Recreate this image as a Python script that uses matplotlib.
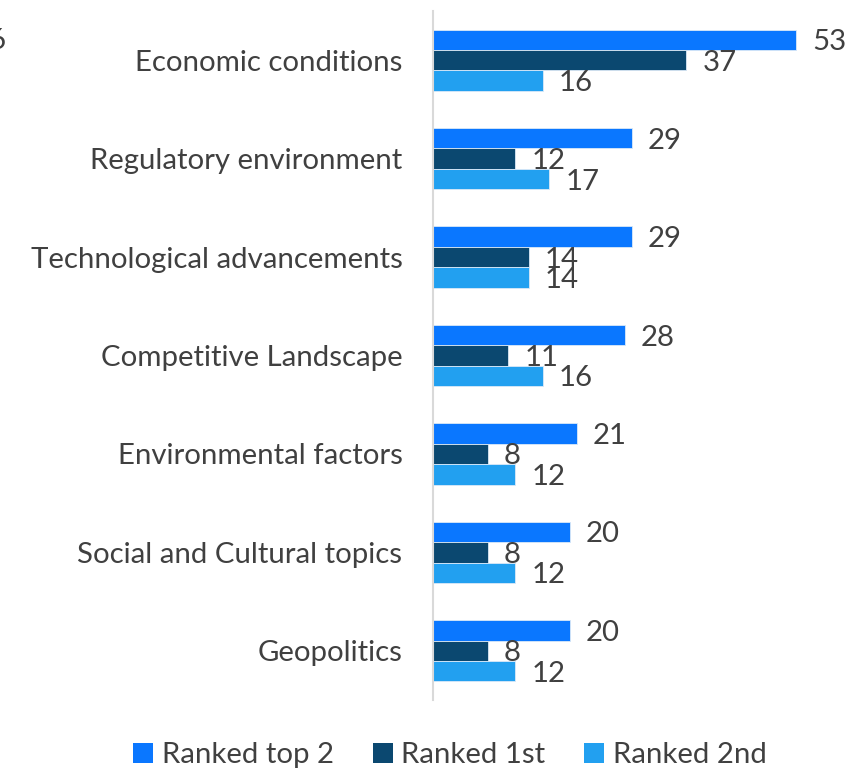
import matplotlib
matplotlib.use("Agg")
import matplotlib.pyplot as plt
from matplotlib.patches import Patch

categories = ["Economic conditions", "Regulatory environment", "Technological advancements",
              "Competitive Landscape", "Environmental factors", "Social and Cultural topics",
              "Geopolitics"]
ranked_top2 = [53, 29, 29, 28, 21, 20, 20]
ranked_1st = [37, 12, 14, 11, 8, 8, 8]
ranked_2nd = [16, 17, 14, 16, 12, 12, 12]
series_names = ["Ranked top 2", "Ranked 1st", "Ranked 2nd"]
colors = ["#0A77FF", "#0B4870", "#22A0F0"]

FONT = ["Lato", "DejaVu Sans"]
plt.rcParams['font.family'] = FONT
TXT = "#404040"
FS = 21.2

W, H = 849, 769
fig = plt.figure(figsize=(W / 100, H / 100), dpi=100)
ax = fig.add_axes([433 / W, 1 - 700 / H, (844 - 433) / W, (700 - 11) / H])

bh = 0.208
ys = list(range(len(categories)))
for k, (vals, col) in enumerate(zip([ranked_top2, ranked_1st, ranked_2nd], colors)):
    off = (k - 1) * bh
    pos = [y + off for y in ys]
    bars = ax.barh(pos, vals, height=bh, color=col, edgecolor="#dbe9f7", linewidth=0.6,
                   label=series_names[k])
    for b, v in zip(bars, vals):
        ax.annotate(f"{v}", xy=(b.get_width(), b.get_y() + b.get_height() / 2),
                    xytext=(11.5, -1.8), textcoords="offset points", ha="left", va="center",
                    fontsize=FS, color=TXT)

ax.set_ylim(len(categories) - 0.5, -0.5)
ax.set_xlim(0, 60)
ax.set_yticks(ys)
ax.set_yticklabels(categories, fontsize=FS, color=TXT)
ax.tick_params(axis="y", length=0, pad=22)
ax.set_xticks([])
for s in ["top", "right", "bottom"]:
    ax.spines[s].set_visible(False)
ax.spines["left"].set_color("#d9d9d9")
ax.spines["left"].set_linewidth(1.5)

handles = [Patch(facecolor=c, edgecolor="none", label=n) for c, n in zip(colors, series_names)]
fig.legend(handles=handles, loc="center", bbox_to_anchor=(450 / W, 1 - 755 / H), ncol=3,
           frameon=False, fontsize=FS, labelcolor=TXT, handlelength=0.68, handleheight=0.68,
           handletextpad=0.3, columnspacing=1.3)

fig.text(6 / W, 1 - 41 / H, "6", ha="right", va="center", fontsize=FS, color=TXT)

fig.savefig("out.png", dpi=100)
